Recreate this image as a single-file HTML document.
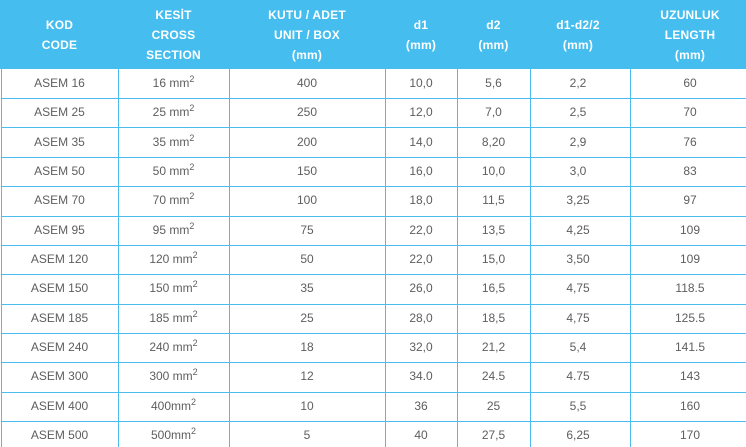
<!DOCTYPE html>
<html>
<head>
<meta charset="utf-8">
<style>
html,body{margin:0;padding:0;background:#fff;}
#w{position:relative;width:746px;height:447px;overflow:hidden;background:#fff;font-family:"Liberation Sans",Arial,sans-serif;}
.hd{position:absolute;left:0;top:0;width:746px;height:69px;background:#46bdef;}
.hc{position:absolute;top:0;height:69px;display:flex;align-items:center;justify-content:center;text-align:center;color:#fff;font-weight:bold;font-size:12px;line-height:20px;letter-spacing:0.2px;}
.v{position:absolute;top:69px;width:1px;height:378px;background:#4bbdee;}
.h{position:absolute;left:1px;width:745px;height:1px;background:#4bbdee;}
.c{position:absolute;height:29px;line-height:29px;text-align:center;color:#5e5e5e;font-size:12px;white-space:nowrap;}
sup{font-size:9px;vertical-align:5px;line-height:0;position:relative;}
</style>
</head>
<body>
<div id="w">
<div class="hd"></div>
<div class="hc" style="left:1px;width:117px;">KOD<br>CODE</div>
<div class="hc" style="left:118px;width:111px;">KESİT<br>CROSS<br>SECTION</div>
<div class="hc" style="left:229px;width:156px;">KUTU / ADET<br>UNIT / BOX<br>(mm)</div>
<div class="hc" style="left:385px;width:72px;">d1<br>(mm)</div>
<div class="hc" style="left:457px;width:73px;">d2<br>(mm)</div>
<div class="hc" style="left:530px;width:96px;">d1-d2/2<br>(mm)</div>
<div class="hc" style="left:630px;width:120px;">UZUNLUK<br>LENGTH<br>(mm)</div>

<div class="v" style="left:1px"></div>
<div class="v" style="left:118px"></div>
<div class="v" style="left:229px"></div>
<div class="v" style="left:385px"></div>
<div class="v" style="left:457px"></div>
<div class="v" style="left:530px"></div>
<div class="v" style="left:630px"></div>

<div class="h" style="top:98px"></div>
<div class="h" style="top:127px"></div>
<div class="h" style="top:157px"></div>
<div class="h" style="top:186px"></div>
<div class="h" style="top:216px"></div>
<div class="h" style="top:245px"></div>
<div class="h" style="top:274px"></div>
<div class="h" style="top:304px"></div>
<div class="h" style="top:333px"></div>
<div class="h" style="top:362px"></div>
<div class="h" style="top:392px"></div>
<div class="h" style="top:421px"></div>

<div class="c" style="top:69px;left:1px;width:117px">ASEM 16</div><div class="c" style="top:69px;left:118px;width:111px">16 mm<sup>2</sup></div><div class="c" style="top:69px;left:229px;width:156px">400</div><div class="c" style="top:69px;left:385px;width:72px">10,0</div><div class="c" style="top:69px;left:457px;width:73px">5,6</div><div class="c" style="top:69px;left:530px;width:96px">2,2</div><div class="c" style="top:69px;left:630px;width:120px">60</div>
<div class="c" style="top:98px;left:1px;width:117px">ASEM 25</div><div class="c" style="top:98px;left:118px;width:111px">25 mm<sup>2</sup></div><div class="c" style="top:98px;left:229px;width:156px">250</div><div class="c" style="top:98px;left:385px;width:72px">12,0</div><div class="c" style="top:98px;left:457px;width:73px">7,0</div><div class="c" style="top:98px;left:530px;width:96px">2,5</div><div class="c" style="top:98px;left:630px;width:120px">70</div>
<div class="c" style="top:128px;left:1px;width:117px">ASEM 35</div><div class="c" style="top:128px;left:118px;width:111px">35 mm<sup>2</sup></div><div class="c" style="top:128px;left:229px;width:156px">200</div><div class="c" style="top:128px;left:385px;width:72px">14,0</div><div class="c" style="top:128px;left:457px;width:73px">8,20</div><div class="c" style="top:128px;left:530px;width:96px">2,9</div><div class="c" style="top:128px;left:630px;width:120px">76</div>
<div class="c" style="top:157px;left:1px;width:117px">ASEM 50</div><div class="c" style="top:157px;left:118px;width:111px">50 mm<sup>2</sup></div><div class="c" style="top:157px;left:229px;width:156px">150</div><div class="c" style="top:157px;left:385px;width:72px">16,0</div><div class="c" style="top:157px;left:457px;width:73px">10,0</div><div class="c" style="top:157px;left:530px;width:96px">3,0</div><div class="c" style="top:157px;left:630px;width:120px">83</div>
<div class="c" style="top:186px;left:1px;width:117px">ASEM 70</div><div class="c" style="top:186px;left:118px;width:111px">70 mm<sup>2</sup></div><div class="c" style="top:186px;left:229px;width:156px">100</div><div class="c" style="top:186px;left:385px;width:72px">18,0</div><div class="c" style="top:186px;left:457px;width:73px">11,5</div><div class="c" style="top:186px;left:530px;width:96px">3,25</div><div class="c" style="top:186px;left:630px;width:120px">97</div>
<div class="c" style="top:216px;left:1px;width:117px">ASEM 95</div><div class="c" style="top:216px;left:118px;width:111px">95 mm<sup>2</sup></div><div class="c" style="top:216px;left:229px;width:156px">75</div><div class="c" style="top:216px;left:385px;width:72px">22,0</div><div class="c" style="top:216px;left:457px;width:73px">13,5</div><div class="c" style="top:216px;left:530px;width:96px">4,25</div><div class="c" style="top:216px;left:630px;width:120px">109</div>
<div class="c" style="top:245px;left:1px;width:117px">ASEM 120</div><div class="c" style="top:245px;left:118px;width:111px">120 mm<sup>2</sup></div><div class="c" style="top:245px;left:229px;width:156px">50</div><div class="c" style="top:245px;left:385px;width:72px">22,0</div><div class="c" style="top:245px;left:457px;width:73px">15,0</div><div class="c" style="top:245px;left:530px;width:96px">3,50</div><div class="c" style="top:245px;left:630px;width:120px">109</div>
<div class="c" style="top:274px;left:1px;width:117px">ASEM 150</div><div class="c" style="top:274px;left:118px;width:111px">150 mm<sup>2</sup></div><div class="c" style="top:274px;left:229px;width:156px">35</div><div class="c" style="top:274px;left:385px;width:72px">26,0</div><div class="c" style="top:274px;left:457px;width:73px">16,5</div><div class="c" style="top:274px;left:530px;width:96px">4,75</div><div class="c" style="top:274px;left:630px;width:120px">118.5</div>
<div class="c" style="top:304px;left:1px;width:117px">ASEM 185</div><div class="c" style="top:304px;left:118px;width:111px">185 mm<sup>2</sup></div><div class="c" style="top:304px;left:229px;width:156px">25</div><div class="c" style="top:304px;left:385px;width:72px">28,0</div><div class="c" style="top:304px;left:457px;width:73px">18,5</div><div class="c" style="top:304px;left:530px;width:96px">4,75</div><div class="c" style="top:304px;left:630px;width:120px">125.5</div>
<div class="c" style="top:333px;left:1px;width:117px">ASEM 240</div><div class="c" style="top:333px;left:118px;width:111px">240 mm<sup>2</sup></div><div class="c" style="top:333px;left:229px;width:156px">18</div><div class="c" style="top:333px;left:385px;width:72px">32,0</div><div class="c" style="top:333px;left:457px;width:73px">21,2</div><div class="c" style="top:333px;left:530px;width:96px">5,4</div><div class="c" style="top:333px;left:630px;width:120px">141.5</div>
<div class="c" style="top:362px;left:1px;width:117px">ASEM 300</div><div class="c" style="top:362px;left:118px;width:111px">300 mm<sup>2</sup></div><div class="c" style="top:362px;left:229px;width:156px">12</div><div class="c" style="top:362px;left:385px;width:72px">34.0</div><div class="c" style="top:362px;left:457px;width:73px">24.5</div><div class="c" style="top:362px;left:530px;width:96px">4.75</div><div class="c" style="top:362px;left:630px;width:120px">143</div>
<div class="c" style="top:392px;left:1px;width:117px">ASEM 400</div><div class="c" style="top:392px;left:118px;width:111px">400mm<sup>2</sup></div><div class="c" style="top:392px;left:229px;width:156px">10</div><div class="c" style="top:392px;left:385px;width:72px">36</div><div class="c" style="top:392px;left:457px;width:73px">25</div><div class="c" style="top:392px;left:530px;width:96px">5,5</div><div class="c" style="top:392px;left:630px;width:120px">160</div>
<div class="c" style="top:421px;left:1px;width:117px">ASEM 500</div><div class="c" style="top:421px;left:118px;width:111px">500mm<sup>2</sup></div><div class="c" style="top:421px;left:229px;width:156px">5</div><div class="c" style="top:421px;left:385px;width:72px">40</div><div class="c" style="top:421px;left:457px;width:73px">27,5</div><div class="c" style="top:421px;left:530px;width:96px">6,25</div><div class="c" style="top:421px;left:630px;width:120px">170</div>
</div>
</body>
</html>
